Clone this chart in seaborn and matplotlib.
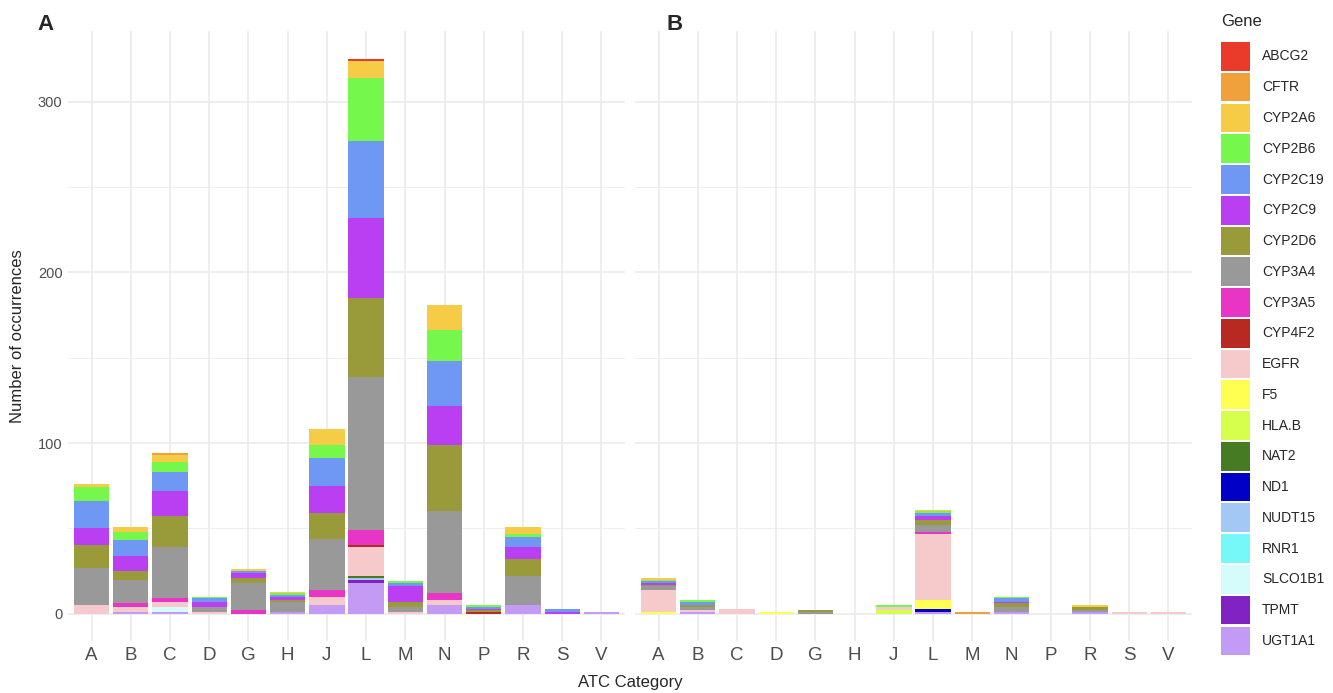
import pandas as pd
import numpy as np
import matplotlib.pyplot as plt
import seaborn as sns
from matplotlib.patches import Patch

# ATC categories on the x axis (same for both panels)
categories = ['A', 'B', 'C', 'D', 'G', 'H', 'J', 'L', 'M', 'N', 'P', 'R', 'S', 'V']

# gene levels, legend order (first one ends up on top of the stack)
genes = ['ABCG2', 'CFTR', 'CYP2A6', 'CYP2B6', 'CYP2C19', 'CYP2C9', 'CYP2D6',
         'CYP3A4', 'CYP3A5', 'CYP4F2', 'EGFR', 'F5', 'HLA.B', 'NAT2', 'ND1',
         'NUDT15', 'RNR1', 'SLCO1B1', 'TPMT', 'UGT1A1']

gene_colors = ['#E93A2A', '#F0A13A', '#F6CB45', '#76F74B', '#6F98F4', '#BA3FF2',
               '#999A3A', '#999999', '#E935C6', '#B82A21', '#F6CACA', '#FFFF52',
               '#D6FF4C', '#467A23', '#0000C6', '#A4C8F6', '#76F8F8', '#D6FBFB',
               '#8122C2', '#C39BF4']

# panel A counts per gene, one value per category (A B C D G H J L M N P R S V)
counts_a = {
    'ABCG2':   [0, 0, 0, 0, 0, 0, 0, 1, 0, 0, 0, 0, 0, 0],
    'CFTR':    [0, 0, 1, 0, 0, 0, 0, 0, 0, 0, 0, 0, 0, 0],
    'CYP2A6':  [2, 3, 4, 0, 1, 1, 9, 10, 0, 15, 0, 4, 0, 0],
    'CYP2B6':  [8, 5, 6, 1, 0, 1, 8, 37, 1, 18, 1, 2, 0, 0],
    'CYP2C19': [16, 9, 11, 2, 1, 1, 16, 45, 2, 26, 1, 6, 2, 0],
    'CYP2C9':  [10, 9, 15, 3, 3, 2, 16, 47, 9, 23, 1, 7, 1, 0],
    'CYP2D6':  [13, 5, 18, 0, 3, 1, 15, 46, 3, 39, 1, 10, 0, 0],
    'CYP3A4':  [22, 14, 30, 3, 16, 6, 30, 90, 3, 48, 0, 17, 0, 0],
    'CYP3A5':  [0, 2, 2, 0, 2, 0, 4, 9, 0, 4, 0, 0, 0, 0],
    'CYP4F2':  [0, 0, 0, 0, 0, 0, 0, 1, 0, 0, 1, 0, 0, 0],
    'EGFR':    [5, 3, 3, 1, 0, 0, 5, 17, 1, 3, 0, 0, 0, 0],
    'F5':      [0, 0, 0, 0, 0, 0, 0, 0, 0, 0, 0, 0, 0, 0],
    'HLA.B':   [0, 0, 0, 0, 0, 0, 0, 0, 0, 0, 0, 0, 0, 0],
    'NAT2':    [0, 0, 0, 0, 0, 0, 0, 1, 0, 0, 0, 0, 0, 0],
    'ND1':     [0, 0, 0, 0, 0, 0, 0, 0, 0, 0, 0, 0, 0, 0],
    'NUDT15':  [0, 0, 0, 0, 0, 0, 0, 1, 0, 0, 0, 0, 0, 0],
    'RNR1':    [0, 0, 0, 0, 0, 0, 0, 0, 0, 0, 0, 0, 0, 0],
    'SLCO1B1': [0, 0, 3, 0, 0, 0, 0, 0, 0, 0, 0, 0, 0, 0],
    'TPMT':    [0, 0, 0, 0, 0, 0, 0, 2, 0, 0, 0, 0, 0, 0],
    'UGT1A1':  [0, 1, 1, 0, 0, 1, 5, 18, 0, 5, 0, 5, 0, 1],
}

# panel B counts
counts_b = {
    'ABCG2':   [0, 0, 0, 0, 0, 0, 0, 0, 0, 0, 0, 0, 0, 0],
    'CFTR':    [0, 0, 0, 0, 0, 0, 0, 0, 1, 0, 0, 0, 0, 0],
    'CYP2A6':  [1, 0, 0, 0, 0, 0, 0, 1, 0, 0, 0, 1, 0, 0],
    'CYP2B6':  [1, 1, 0, 0, 0, 0, 1, 1, 0, 1, 0, 0, 0, 0],
    'CYP2C19': [1, 2, 0, 0, 0, 0, 0, 2, 0, 2, 0, 0, 0, 0],
    'CYP2C9':  [1, 0, 0, 0, 0, 0, 0, 2, 0, 1, 0, 0, 0, 0],
    'CYP2D6':  [1, 1, 0, 0, 1, 0, 0, 3, 0, 2, 0, 2, 0, 0],
    'CYP3A4':  [2, 2, 0, 0, 1, 0, 0, 4, 0, 3, 0, 1, 0, 0],
    'CYP3A5':  [0, 0, 0, 0, 0, 0, 0, 1, 0, 0, 0, 0, 0, 0],
    'CYP4F2':  [0, 0, 0, 0, 0, 0, 0, 0, 0, 0, 0, 0, 0, 0],
    'EGFR':    [13, 1, 3, 0, 0, 0, 2, 39, 0, 0, 0, 0, 1, 1],
    'F5':      [1, 0, 0, 1, 0, 0, 0, 5, 0, 0, 0, 0, 0, 0],
    'HLA.B':   [0, 0, 0, 0, 0, 0, 2, 0, 0, 0, 0, 0, 0, 0],
    'NAT2':    [0, 0, 0, 0, 0, 0, 0, 0, 0, 0, 0, 0, 0, 0],
    'ND1':     [0, 0, 0, 0, 0, 0, 0, 2, 0, 0, 0, 0, 0, 0],
    'NUDT15':  [0, 0, 0, 0, 0, 0, 0, 0, 0, 0, 0, 0, 0, 0],
    'RNR1':    [0, 0, 0, 0, 0, 0, 0, 0, 0, 0, 0, 0, 0, 0],
    'SLCO1B1': [0, 0, 0, 0, 0, 0, 0, 0, 0, 0, 0, 0, 0, 0],
    'TPMT':    [0, 0, 0, 0, 0, 0, 0, 0, 0, 0, 0, 0, 0, 0],
    'UGT1A1':  [0, 1, 0, 0, 0, 0, 0, 1, 0, 1, 0, 1, 0, 0],
}


def to_long(counts):
    # category-major so the categorical axis keeps the A..V order
    rows = []
    for i, cat in enumerate(categories):
        for g in genes:
            rows.append({'atc': cat, 'gene': g, 'n': counts[g][i]})
    return pd.DataFrame(rows)


sns.set_theme(style='whitegrid')
plt.rcParams['font.family'] = ['Liberation Sans', 'DejaVu Sans']

fig = plt.figure(figsize=(13.33, 6.93), dpi=100)
W, H = 1333, 693
ax_a = fig.add_axes([68 / W, 52 / H, 557 / W, 610 / H])
ax_b = fig.add_axes([635 / W, 52 / H, 557 / W, 610 / H])

palette = dict(zip(genes, gene_colors))

for ax, counts in [(ax_a, counts_a), (ax_b, counts_b)]:
    df = to_long(counts)
    sns.histplot(data=df, x='atc', weights='n', hue='gene', hue_order=genes,
                 palette=palette, multiple='stack', discrete=True, shrink=0.9,
                 alpha=1, linewidth=0, legend=False, ax=ax)
    ax.set_xlim(-0.6, len(categories) - 0.4)
    ax.set_ylim(-16, 341.5)
    ax.set_xticks(range(len(categories)))
    ax.set_xticklabels(categories, fontsize=13.5, color='#4D4D4D')
    ax.set_yticks([0, 100, 200, 300])
    ax.set_yticks([50, 150, 250], minor=True)
    ax.grid(True, which='major', color='#EBEBEB', linewidth=1.2)
    ax.grid(True, which='minor', axis='y', color='#EBEBEB', linewidth=0.6)
    ax.set_facecolor('white')
    for s in ax.spines.values():
        s.set_visible(False)
    ax.tick_params(axis='both', length=0, pad=4)
    ax.set_xlabel('')
    ax.set_ylabel('')
    ax.set_axisbelow(True)

ax_a.tick_params(axis='y', labelsize=10.5, labelcolor='#4D4D4D')
ax_b.set_yticklabels([])

fig.text(18 / W, 1 - 336 / H, 'Number of occurrences', rotation=90,
         ha='center', va='center', fontsize=12)
fig.text(630 / W, 1 - 683 / H, 'ATC Category', ha='center', va='center', fontsize=12)
fig.text(45 / W, 1 - 25 / H, 'A', ha='center', va='center', fontsize=16, fontweight='bold')
fig.text(675 / W, 1 - 25 / H, 'B', ha='center', va='center', fontsize=16, fontweight='bold')

# legend: title drawn separately so the gap above the keys matches
fig.text(1221 / W, 1 - 22 / H, 'Gene', ha='left', va='center', fontsize=12)
handles = [Patch(facecolor=c, edgecolor='none', label=g) for g, c in zip(genes, gene_colors)]
leg = fig.legend(handles=handles, loc='upper left',
                 bbox_to_anchor=(1221 / W, 1 - 42 / H), frameon=False,
                 fontsize=10, handlelength=2.1,
                 handleheight=2.8, labelspacing=0.15, handletextpad=0.85,
                 borderaxespad=0, borderpad=0)

fig.savefig('out.png', dpi=100, facecolor='white')
